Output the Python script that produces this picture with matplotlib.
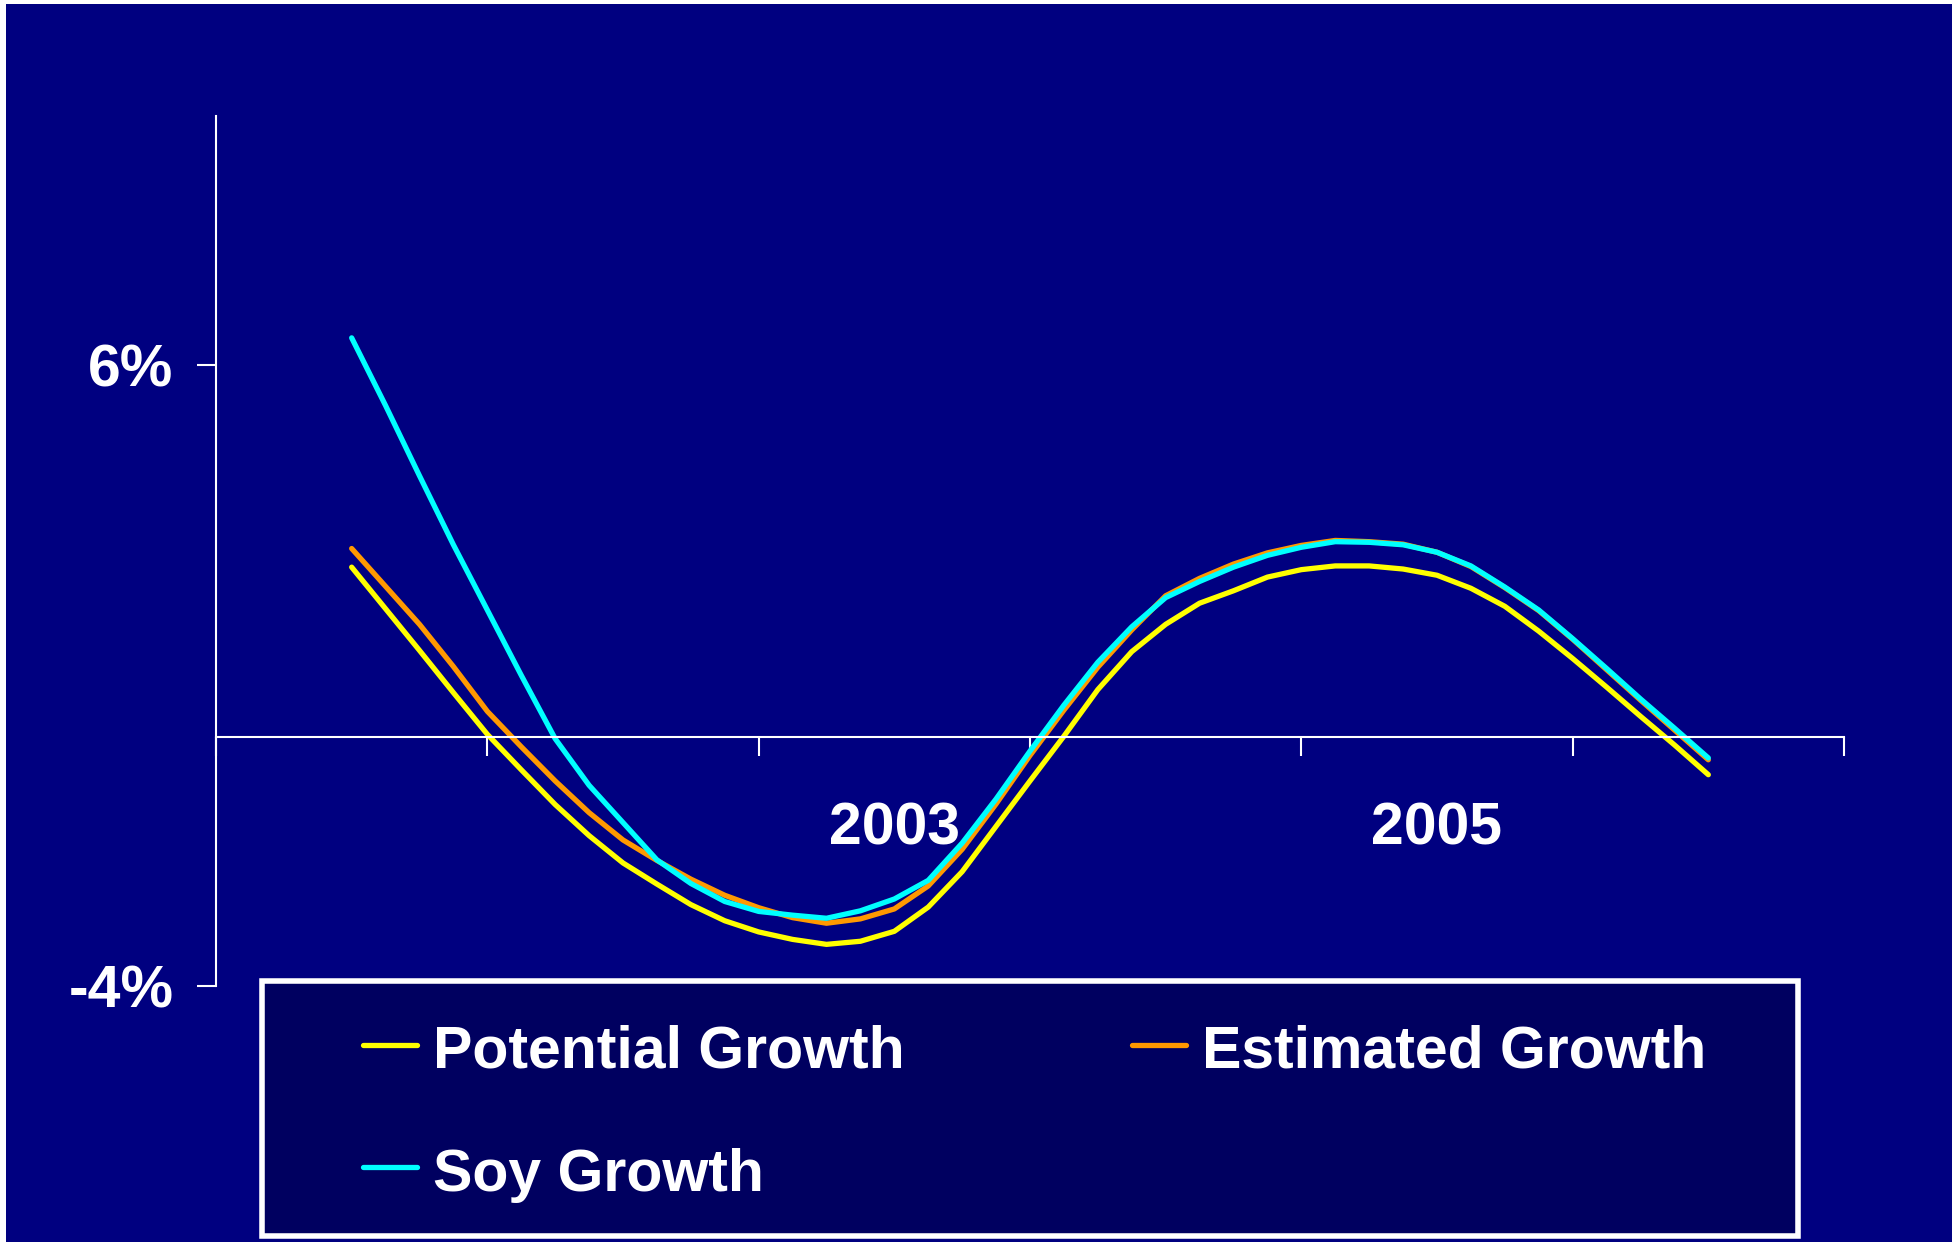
import numpy as np
import matplotlib.pyplot as plt
from matplotlib.patches import Rectangle
from matplotlib.lines import Line2D

# category axis: one slot per year, only some labelled
year_labels = ['', '', '2003', '', '2005', '']

# 8 readings per year, from the middle of the first year to the middle of the last
potential = [2.74, 2.07, 1.40, 0.72, 0.05, -0.52, -1.08, -1.58, -2.02, -2.36,
             -2.69, -2.95, -3.13, -3.25, -3.33, -3.28, -3.12, -2.73, -2.16, -1.43,
             -0.70, 0.02, 0.77, 1.38, 1.82, 2.16, 2.36, 2.58, 2.70, 2.76,
             2.76, 2.71, 2.61, 2.40, 2.11, 1.71, 1.27, 0.81, 0.34, -0.12, -0.60]
estimated = [3.04, 2.43, 1.82, 1.14, 0.42, -0.15, -0.70, -1.21, -1.65, -1.98,
             -2.28, -2.54, -2.74, -2.90, -2.99, -2.92, -2.76, -2.39, -1.80, -1.07,
             -0.29, 0.44, 1.13, 1.73, 2.28, 2.56, 2.79, 2.97, 3.09, 3.17,
             3.15, 3.11, 2.98, 2.75, 2.41, 2.04, 1.58, 1.09, 0.60, 0.12, -0.36]
soy = [6.43, 5.34, 4.21, 3.10, 2.05, 1.00, -0.02, -0.77, -1.37, -1.97,
       -2.35, -2.64, -2.80, -2.86, -2.91, -2.79, -2.60, -2.30, -1.70, -0.99,
       -0.22, 0.52, 1.21, 1.78, 2.25, 2.51, 2.74, 2.93, 3.06, 3.15,
       3.14, 3.10, 2.98, 2.76, 2.42, 2.05, 1.59, 1.11, 0.62, 0.15, -0.33]

series_names = ['Potential Growth', 'Estimated Growth', 'Soy Growth']
series_colors = ['#FFFF00', '#FF9900', '#00FFFF']

y_ticks = [-4, 6]
y_ticklabels = ['-4%', '6%']

bg = '#000080'
font = ['Liberation Sans', 'DejaVu Sans']
fs = 42.5

fig = plt.figure(figsize=(19.52, 12.42), dpi=100, facecolor=bg)
ax = fig.add_axes([216 / 1952, 1 - 986 / 1242, (1844 - 216) / 1952, (986 - 116) / 1242])
ax.set_facecolor(bg)

x = 0.5 + np.arange(len(potential)) / 8.0
for vals, c in zip([potential, estimated, soy], series_colors):
    ax.plot(x, vals, color=c, lw=3.8, solid_capstyle='round', solid_joinstyle='round')

ax.set_xlim(0, len(year_labels))
ax.set_ylim(-4, 10)

for s in ['top', 'right']:
    ax.spines[s].set_visible(False)
ax.spines['bottom'].set_position(('data', 0))
for s in ['left', 'bottom']:
    ax.spines[s].set_color('white')
    ax.spines[s].set_linewidth(1.5)

ax.set_xticks(np.arange(len(year_labels) + 1))
ax.set_xticklabels([])
ax.set_xticks(np.arange(len(year_labels)) + 0.5, minor=True)
ax.set_xticklabels(year_labels, minor=True, fontsize=fs, fontweight='bold',
                   color='white', family=font)
ax.tick_params(axis='x', which='major', direction='out', length=13.7, width=1.5, color='white')
ax.tick_params(axis='x', which='minor', length=0, pad=46)

ax.set_yticks(y_ticks)
ax.set_yticklabels(y_ticklabels, fontsize=fs, fontweight='bold', color='white', family=font)
ax.tick_params(axis='y', direction='out', length=13.7, width=1.5, color='white', pad=17)

# legend box drawn by hand to match the original layout
fig.add_artist(Rectangle((262 / 1952, 1 - 1236 / 1242), (1798 - 262) / 1952, (1236 - 981) / 1242,
                         transform=fig.transFigure, facecolor='#000060', edgecolor='white', lw=4))
entries = [(363, 1045, 433, 1068), (1132, 1045, 1202, 1068), (363, 1167, 433, 1191)]
for (hx, hy, tx, ty), name, c in zip(entries, series_names, series_colors):
    fig.add_artist(Line2D([hx / 1952, (hx + 54) / 1952], [1 - hy / 1242, 1 - hy / 1242],
                          transform=fig.transFigure, color=c, lw=3.8, solid_capstyle='round'))
    fig.text(tx / 1952, 1 - ty / 1242, name, fontsize=fs, fontweight='bold', color='white',
             family=font, va='baseline', ha='left')

# thin white frame on the top and left edge
fig.add_artist(Rectangle((0, 1 - 4 / 1242), 1, 4 / 1242, transform=fig.transFigure,
                         facecolor='white', edgecolor='none'))
fig.add_artist(Rectangle((0, 0), 6 / 1952, 1, transform=fig.transFigure,
                         facecolor='white', edgecolor='none'))

fig.savefig('out.png', dpi=100, facecolor=bg)
